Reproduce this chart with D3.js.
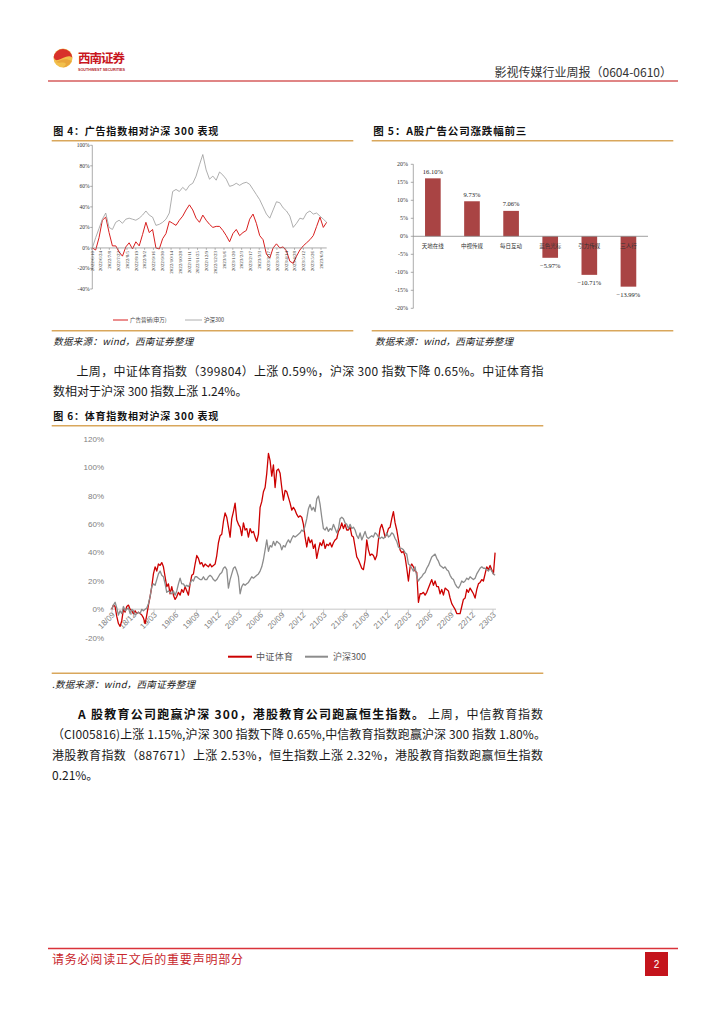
<!DOCTYPE html>
<html><head><meta charset="utf-8">
<script src="https://cdn.jsdelivr.net/npm/d3@7"></script>
<style>body{margin:0;background:#fff}svg{display:block}</style>
</head><body>
<svg id="page" width="724" height="1024"></svg>
<script>
// ===== Figure 4: 广告指数相对沪深300表现 (weekly-ish samples, %) =====
const adStart = "2022/6/11", adEnd = "2023/6/18";
const adIndex = [0,-2,10,27,30,15,2,2,-4,-8,1,5,-1,6,2,13,25,15,18,0,-1,9,14,26,24,22,27,31,37,42,37,29,25,32,27,23,20,21,21,17,12,6,14,18,12,15,17,28,33,24,12,8,-6,-10,0,4,0,1,-3,-13,-15,-8,-2,2,5,8,12,21,30,20,25];
const adHs300 = [0,10,19,28,34,20,18,25,27,24,28,29,28,27,29,32,36,32,30,22,23,25,28,34,55,57,55,59,56,61,63,70,81,91,76,67,70,66,74,71,67,60,61,63,61,63,64,62,57,52,47,40,33,29,37,45,44,39,36,31,20,24,29,28,34,36,33,34,31,28,25];
const adTickLabels = ["2022/6/10","2022/6/24","2022/7/8","2022/7/22","2022/8/5","2022/8/19","2022/9/2","2022/9/16","2022/9/30","2022/10/14","2022/10/28","2022/11/11","2022/11/25","2022/12/9","2022/12/23","2023/1/6","2023/1/20","2023/2/3","2023/2/17","2023/3/3","2023/3/17","2023/3/31","2023/4/14","2023/4/28","2023/5/12","2023/5/26","2023/6/9"];
const adYTicks = [100,80,60,40,20,0,-20,-40];
const adSeriesNames = ["广告营销(申万)","沪深300"];

// ===== Figure 5: A股广告公司涨跌幅前三 (%) =====
const topCompanies = ["天地在线","中视传媒","每日互动","蓝色光标","引力传媒","三人行"];
const topChanges = [16.10, 9.73, 7.06, -5.97, -10.71, -13.99];
const topYTicks = [20,15,10,5,0,-5,-10,-15,-20];

// ===== Figure 6: 体育指数相对沪深300表现 (weekly samples, %) =====
const sportStart = "2018/8/31", sportEnd = "2023/3/10";
const sportIndex = [0,3,2,-5,-10,-12,-8,0,-2,2, 3,0,-1,-3,-1,-3,-2,-3,-4,-6, -10,-4,3,9,16,25,30,27,32,31, 33,30,23,16,18,11,16,10,7,9, 12,10,14,12,16,13,10,18,24,25, 32,38,36,32,33,30,32,31,30,32, 30,31,32,38,47,52,53,62,68,65, 58,51,64,69,75,63,60,58,52,61, 56,57,51,57,54,55,51,48,53,72, 76,83,86,96,110,105,94,102,86,98, 99,96,86,77,84,83,79,75,70,72,
  70,67,65,66,65,60,51,44,51,47, 49,43,46,36,42,47,45,49,43,46, 45,47,44,47,49,50,55,57,61,57, 60,56,56,58,52,51,44,37,35,32, 29,28,35,49,42,38,39,38,35,38, 49,57,60,56,51,53,57,58,64,69, 61,56,49,42,40,41,37,29,20,30, 32,30,27,26,5,11,11,12,10,12, 15,18,21,17,20,16,16,11,14,10, 15,14,13,8,4,2,0,-3,-3,-3, 2,7,8,14,12,15,13,11,8,14, 18,19,21,20,25,30,28,31,28,25, 40];
const sportHs300 = [0,3,5,1,-4,-1,-3,2,-1,0, 1,-3,0,-1,-4,-3,-2,-3,0,-1, 0,1,4,9,16,18,17,21,25,27, 24,23,18,12,13,12,11,13,10,13, 18,22,18,18,16,17,16,18,21,20, 23,23,22,21,21,23,21,21,23,24, 23,21,20,21,23,25,26,29,30,28, 15,21,25,29,30,27,23,11,16,18, 17,18,19,21,23,22,23,24,25,27, 30,35,42,49,41,45,44,48,45,48, 47,46,42,45,44,47,49,47,50,52,
  51,52,53,54,56,55,59,64,71,74, 70,72,69,78,80,74,65,57,56,58, 55,57,56,60,57,54,57,64,65,64, 61,60,57,60,57,58,56,52,50,54, 49,52,55,51,50,51,52,51,54,53, 51,50,51,50,51,54,51,52,54,53, 50,48,44,43,43,42,40,39,32,31, 29,27,30,23,20,22,23,25,26,29, 31,34,37,38,39,36,34,31,30,29, 30,28,27,24,22,21,18,16,15,17, 20,19,20,22,21,23,22,21,22,25, 27,29,30,29,29,28,27,29,27,25, 24];
const sportYTicks = [120,100,80,60,40,20,0,-20];
const sportSeriesNames = ["中证体育","沪深300"];
const sportTickStart = "2018/9/1", sportTickEnd = "2023/3/1";

// ===== helpers =====
const svg = d3.select("#page");
const CJK = '"Noto Sans CJK SC","Noto Sans",sans-serif';
const SERIF = '"Liberation Serif","Noto Sans CJK SC",serif';
const SANS = '"Liberation Sans","Noto Sans CJK SC",sans-serif';
const ORANGE = "#d9a75c";
const parse = d3.timeParse("%Y/%m/%d");
function T(g,x,y,s,o={}){
  const t=g.append("text").attr("x",x).attr("y",y).text(s)
    .attr("font-family",o.ff||CJK).attr("font-size",o.fs||12).attr("fill",o.fill||"#1a1a1a");
  if(o.fw) t.attr("font-weight",o.fw);
  if(o.anchor) t.attr("text-anchor",o.anchor);
  if(o.dy) t.attr("dy",o.dy);
  if(o.italic) t.attr("font-style","italic");
  if(o.len) t.attr("textLength",o.len).attr("lengthAdjust",o.adj||"spacing");
  return t;
}
function L(g,x1,y1,x2,y2,c,w){return g.append("line").attr("x1",x1).attr("y1",y1).attr("x2",x2).attr("y2",y2).attr("stroke",c).attr("stroke-width",w);}
function spreadDates(n,a,b){const s=+parse(a),e=+parse(b);return d3.range(n).map(i=>new Date(s+i*(e-s)/(n-1)));}

// ===== header =====
const hd = svg.append("g");
hd.append("circle").attr("cx",63).attr("cy",58).attr("r",9.5).attr("fill","#f2c04c");
hd.append("path").attr("d","M53.6,57 A9.5,9.5 0 0 1 72.4,57.5 C68,54 63,58.5 58,60 C56,60.6 54.4,59.5 53.6,57 Z").attr("fill","#d8312a");
hd.append("path").attr("d","M56,62 C60,60 66,57.5 71.5,61 C70,64.5 66.5,67.3 62.5,67.5 C66,66 67.5,62.5 63,62.5 C60.5,62.5 58,63 56,62 Z").attr("fill","#e9a53a");
T(hd,78,63,"西南证券",{fs:12.5,fw:700,fill:"#c8161d",len:47});
T(hd,78,70.5,"SOUTHWEST SECURITIES",{ff:SANS,fs:4,fw:700,fill:"#b3262b",len:47,adj:"spacingAndGlyphs"});
T(hd,672,77,"影视传媒行业周报（0604-0610）",{fs:12,fill:"#333",anchor:"end"});
L(hd,48,81,678,81,"#e08585",2);

// ===== Figure 4 =====
(function(){
  const g = svg.append("g");
  T(g,53.3,134.5,"图 4：广告指数相对沪深 300 表现",{fs:10,fw:700,fill:"#111",len:165});
  L(g,51.7,140.7,353.3,140.7,ORANGE,1.4);
  L(g,51.7,330.7,353.3,330.7,ORANGE,1.4);
  T(g,53.3,345.3,"数据来源：wind，西南证券整理",{fs:9.5,italic:true,fill:"#222",len:140});
  const y = d3.scaleLinear().domain([-40,100]).range([289,145.3]);
  const x = d3.scaleTime().domain([parse(adTickLabels[0]),parse(adTickLabels[adTickLabels.length-1])]).range([91.7,321]);
  L(g,92.3,y(100),92.3,y(-40),"#888",0.7);
  adYTicks.forEach(v=>{L(g,90.2,y(v),92.3,y(v),"#888",0.7);
    T(g,89.5,y(v),v+"%",{ff:SERIF,fs:5.5,fill:"#333",anchor:"end",dy:"0.35em"});});
  const dates = spreadDates(adIndex.length,adStart,adEnd);
  const ln = d3.line().x((d,i)=>x(dates[i])).y(d=>y(d));
  g.append("path").attr("d",ln(adIndex)).attr("fill","none").attr("stroke","#d81e1e").attr("stroke-width",1).attr("stroke-linejoin","round");
  g.append("path").attr("d",ln(adHs300)).attr("fill","none").attr("stroke","#999").attr("stroke-width",0.8).attr("stroke-linejoin","round");
  L(g,92.3,y(0),326.7,y(0),"#888",0.7);
  adTickLabels.forEach(s=>{const xx=x(parse(s));L(g,xx,y(0),xx,y(0)+2,"#888",0.6);
    g.append("text").attr("transform",`translate(${xx+1.8},${y(0)+3}) rotate(-90)`).attr("text-anchor","end")
     .attr("font-family",SERIF).attr("font-size",5).attr("fill","#333").text(s);});
  L(g,113,320,128,320,"#d81e1e",1);
  T(g,130,322,adSeriesNames[0],{fs:5.5,fill:"#444"});
  L(g,185,320,202,320,"#999",0.8);
  T(g,204,322,adSeriesNames[1],{fs:5.5,fill:"#444"});
})();

// ===== Figure 5 =====
(function(){
  const g = svg.append("g");
  T(g,373.3,134.5,"图 5：A股广告公司涨跌幅前三",{fs:10.5,fw:700,fill:"#111",len:153});
  L(g,371.7,140.7,673.3,140.7,ORANGE,1.4);
  L(g,371.7,330.7,673.3,330.7,ORANGE,1.4);
  T(g,375,345.3,"数据来源：wind，西南证券整理",{fs:9.5,italic:true,fill:"#222",len:138});
  const y = d3.scaleLinear().domain([-20,20]).range([308.3,164.3]);
  const x = d3.scaleBand().domain(topCompanies).range([413.3,648]).paddingInner(0.6).paddingOuter(0.3);
  L(g,413.3,y(20),413.3,y(-20),"#888",0.7);
  topYTicks.forEach(v=>{L(g,410.8,y(v),413.3,y(v),"#888",0.7);
    T(g,408,y(v),v+"%",{ff:SERIF,fs:6,fill:"#333",anchor:"end",dy:"0.35em"});});
  g.selectAll("rect.bar").data(topChanges).join("rect").attr("class","bar")
    .attr("x",(d,i)=>x(topCompanies[i])).attr("width",x.bandwidth())
    .attr("y",d=>y(Math.max(0,d))).attr("height",d=>Math.abs(y(d)-y(0)))
    .attr("fill","#a94444");
  L(g,413.3,y(0),648,y(0),"#888",0.8);
  topChanges.forEach((v,i)=>{const cx=x(topCompanies[i])+x.bandwidth()/2;
    T(g,cx,v>=0?y(v)-4.5:y(v)+10,d3.format(".2f")(v)+"%",{ff:SERIF,fs:6.5,fill:"#222",anchor:"middle"});
    T(g,cx,248,topCompanies[i],{fs:5.5,fill:"#333",anchor:"middle"});});
})();

// ===== body paragraph 1 =====
(function(){
  const g = svg.append("g");
  T(g,76.5,375.5,"上周，中证体育指数（399804）上涨 0.59%，沪深 300 指数下降 0.65%。中证体育指",{fs:12,len:467});
  T(g,53,395.5,"数相对于沪深 300 指数上涨 1.24%。",{fs:12});
})();

// ===== Figure 6 =====
(function(){
  const g = svg.append("g");
  T(g,53.3,419.5,"图 6：体育指数相对沪深 300 表现",{fs:10,fw:700,fill:"#111",len:165});
  L(g,51.7,425.7,543.3,425.7,ORANGE,1.4);
  L(g,51.7,673.3,543.3,673.3,ORANGE,1.4);
  T(g,52,688,".数据来源：wind，西南证券整理",{fs:9.5,italic:true,fill:"#222",len:143});
  const y = d3.scaleLinear().domain([-20,120]).range([637.7,439.3]);
  const x = d3.scaleTime().domain([parse(sportTickStart),parse(sportTickEnd)]).range([112,493]);
  sportYTicks.forEach(v=>T(g,104,y(v),v+"%",{ff:SANS,fs:8,fill:"#808080",anchor:"end",dy:"0.35em"}));
  L(g,110,y(0),496,y(0),"#d9d9d9",1.5);
  const ticks = d3.timeMonth.range(parse(sportTickStart),d3.timeDay.offset(parse(sportTickEnd),1),3);
  const fmt = d3.timeFormat("%y/%m");
  ticks.forEach(d=>{const xx=x(d);L(g,xx,y(0),xx,y(0)+3,"#bfbfbf",0.8);
    g.append("text").attr("transform",`translate(${xx+1.5},${y(0)+4}) rotate(-45)`).attr("text-anchor","end").attr("dy","0.35em")
     .attr("font-family",SANS).attr("font-size",8).attr("fill","#808080").text(fmt(d));});
  const dates = spreadDates(sportIndex.length,sportStart,sportEnd);
  const ln = d3.line().x((d,i)=>x(dates[i])).y(d=>y(d));
  g.append("path").attr("d",ln(sportIndex)).attr("fill","none").attr("stroke","#cc0000").attr("stroke-width",1.3).attr("stroke-linejoin","round");
  g.append("path").attr("d",ln(sportHs300)).attr("fill","none").attr("stroke","#8c8c8c").attr("stroke-width",1.3).attr("stroke-linejoin","round");
  L(g,228,656.7,252,656.7,"#cc0000",2);
  T(g,256,660,sportSeriesNames[0],{fs:9,fill:"#595959",len:37});
  L(g,305,656.7,328,656.7,"#8c8c8c",2);
  T(g,333,660,sportSeriesNames[1],{fs:9,fill:"#595959"});
})();

// ===== body paragraph 2 =====
(function(){
  const g = svg.append("g");
  T(g,78,718.5,"A 股教育公司跑赢沪深 300，港股教育公司跑赢恒生指数。",{fs:12,fw:700,fill:"#111",len:346});
  T(g,428,718.5,"上周，中信教育指数",{fs:12,len:115});
  T(g,52,738.5,"（CI005816)上涨 1.15%,沪深 300 指数下降 0.65%,中信教育指数跑赢沪深 300 指数 1.80%。",{fs:12,len:494});
  T(g,52,759.5,"港股教育指数（887671）上涨 2.53%，恒生指数上涨 2.32%，港股教育指数跑赢恒生指数",{fs:12,len:491});
  T(g,52,779.5,"0.21%。",{fs:12});
})();

// ===== footer =====
(function(){
  const g = svg.append("g");
  L(g,48,948.5,678,948.5,"#d9333a",1.3);
  T(g,52,963.5,"请务必阅读正文后的重要声明部分",{fs:12,fill:"#c8262c",len:191});
  g.append("rect").attr("x",645).attr("y",952).attr("width",23).attr("height",24).attr("fill","#c4141c");
  T(g,656.5,968,"2",{ff:SANS,fs:10,fill:"#fff",anchor:"middle"});
})();
</script>
</body></html>
